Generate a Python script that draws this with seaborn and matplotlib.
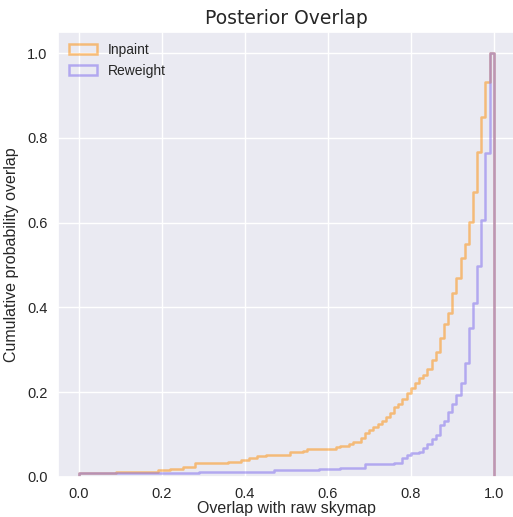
import numpy as np
import pandas as pd
import matplotlib
matplotlib.use("Agg")
import matplotlib.pyplot as plt
from matplotlib.patches import Patch
import seaborn as sns

# %%--  Data (cumulative fraction per 0.01-wide bin)
n_bins = 100
bin_range = (0.0, 1.0)

inpaint_cum = (
    [0.0097] * 9 + [0.012] * 10 + [0.016] * 3 + [0.020] * 3 + [0.024] * 3
    + [0.032] * 8 + [0.036] * 3 + [0.040] * 2 + [0.045] * 2 + [0.049] * 2
    + [0.053] * 6 + [0.058] * 3 + [0.062] + [0.065] * 7 + [0.071]
    + [0.074] * 2 + [0.077] + [0.083] * 2
    + [0.093, 0.103, 0.112, 0.118, 0.125, 0.132, 0.142, 0.151, 0.164, 0.172,
       0.185, 0.199, 0.209, 0.221, 0.234, 0.240, 0.256, 0.276, 0.295, 0.327,
       0.361, 0.388, 0.433, 0.469, 0.517, 0.549, 0.601, 0.672, 0.768, 0.849,
       0.931, 1.000]
)

reweight_cum = (
    [0.0097] * 29 + [0.012] * 18 + [0.016] * 11 + [0.019] * 5 + [0.021] * 6
    + [0.030] * 7 + [0.034] * 2
    + [0.046, 0.051, 0.057, 0.057, 0.059, 0.069, 0.079, 0.089, 0.099, 0.122,
       0.132, 0.154, 0.173, 0.193, 0.222, 0.269, 0.351, 0.411, 0.499, 0.606,
       0.765, 1.000]
)

labels = ["Inpaint", "Reweight"]
colors = ["darkorange", "mediumslateblue"]
# %%-

# %%--  Reshape
edges = np.linspace(bin_range[0], bin_range[1], n_bins + 1)
centers = 0.5 * (edges[:-1] + edges[1:])
frames = []
for lab, cum in zip(labels, [inpaint_cum, reweight_cum]):
    cum = np.asarray(cum)
    frames.append(pd.DataFrame({
        "overlap": centers,
        "weight": np.diff(np.r_[0.0, cum]),
        "method": lab,
    }))
df = pd.concat(frames, ignore_index=True)
# %%-

# %%--  Plot
sns.set_theme(style="darkgrid")
plt.rcParams["font.family"] = ["Liberation Sans", "DejaVu Sans"]
plt.rcParams["xtick.color"] = ".15"
plt.rcParams["ytick.color"] = ".15"

fig = plt.figure(figsize=(5.13, 5.17), dpi=100)
ax = fig.add_axes([58 / 513, 40 / 517, 456.5 / 513, 445 / 517])

handles = []
for lab, col in zip(labels, colors):
    sub = df[df["method"] == lab]
    n_before = len(ax.lines)
    sns.histplot(
        data=sub, x="overlap", weights="weight", bins=n_bins,
        binrange=bin_range, cumulative=True, stat="probability",
        element="step", fill=False, color=col, alpha=0.5, linewidth=1.8,
        ax=ax,
    )
    # close the outline down to zero at both ends, like a step histogram
    line = ax.lines[n_before]
    xs, ys = line.get_data()
    xs = np.r_[xs[0], xs, xs[-1]]
    ys = np.r_[0.0, ys, 0.0]
    line.set_data(xs, ys)
    handles.append(Patch(facecolor="none", edgecolor=col, alpha=0.5,
                         linewidth=1.8, label=lab))

ax.set_xlim(-0.05, 1.05)
ax.set_ylim(0, 1.05)
ax.set_xticks(np.arange(0, 1.01, 0.2))
ax.set_yticks(np.arange(0, 1.01, 0.2))
ax.tick_params(labelsize=10.5, pad=1.5)
ax.set_xlabel("Overlap with raw skymap", fontsize=11.5, color=".15", labelpad=0)
ax.set_ylabel("Cumulative probability overlap", fontsize=11.5, color=".15",
              labelpad=6)
ax.set_title("Posterior Overlap", fontsize=13.5, family="DejaVu Sans",
             color=".15")
ax.legend(handles=handles, loc="upper left", frameon=False, fontsize=10,
          borderaxespad=0.4)

fig.savefig("out.png", dpi=100)
# %%-
